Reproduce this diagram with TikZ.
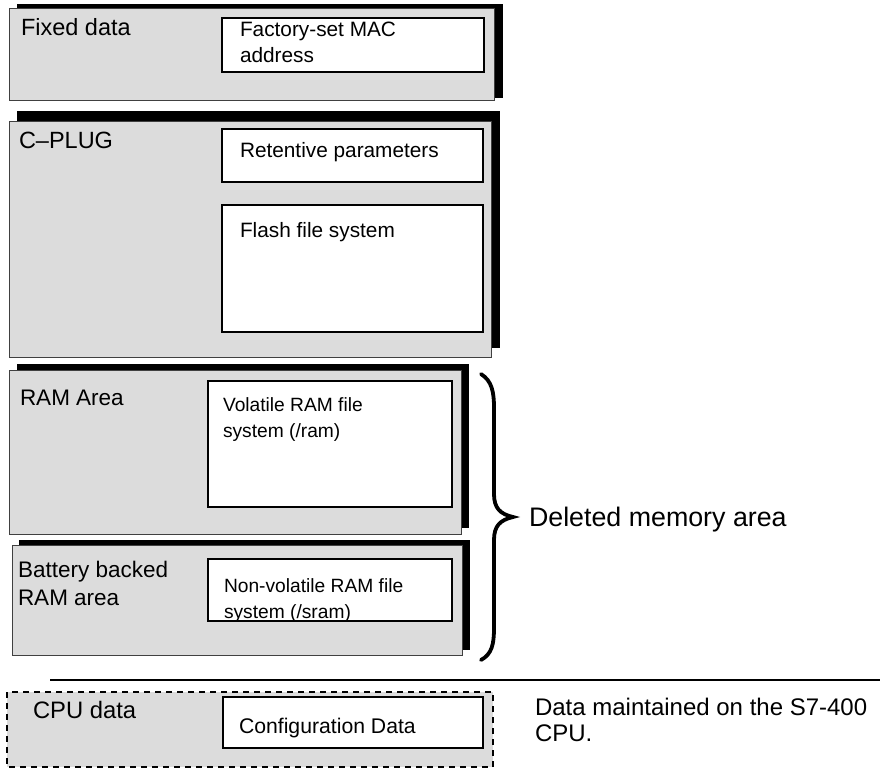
\documentclass[tikz,border=0pt]{standalone}
\usepackage{fontspec}
\setmainfont{Liberation Sans}
\definecolor{panel}{HTML}{DCDCDC}
\tikzset{
  shadowbox/.style={fill=black},
  panelbox/.style={fill=panel, draw=black!75, line width=0.9bp},
  innerbox/.style={fill=white, draw=black, line width=1.6bp},
  cpubox/.style={fill=panel, draw=black, line width=1.5bp, dash pattern=on 6bp off 5bp},
  lbl/.style={anchor=north west, inner sep=0pt, outer sep=0pt, align=left},
  blbl/.style={anchor=base west, inner sep=0pt, outer sep=0pt},
  bracestroke/.style={line width=3.8bp, line cap=round},
}
\newcommand\fsTop{\fontsize{23.5bp}{28bp}\selectfont}
\newcommand\fsOuter{\fontsize{22.5bp}{28bp}\selectfont}
\newcommand\fsInnerA{\fontsize{20.8bp}{26bp}\selectfont}
\newcommand\fsInnerB{\fontsize{19.2bp}{25.8bp}\selectfont}
\begin{document}
\begin{tikzpicture}[x=1bp,y=-1bp]
\useasboundingbox (0,0) rectangle (880,768);
% ---------- Fixed data
\fill[shadowbox] (17,4) rectangle (503,98);
\draw[panelbox] (9,8) rectangle (494,100);
\draw[innerbox] (222,18) rectangle (484,72);
\node[lbl, font=\fsTop] (fixed) at (21,18) {Fixed data};
\node[lbl, font=\fsInnerA] (mac) at (240,22) {Factory-set MAC\\address};
% ---------- C-PLUG
\fill[shadowbox] (17,111) rectangle (500,348);
\draw[panelbox] (9,121) rectangle (491,357);
\draw[innerbox] (222,129) rectangle (483,182);
\draw[innerbox] (222,205) rectangle (483,332);
\node[lbl, font=\fsTop] (cplug) at (19,132) {C–PLUG};
\node[lbl, font=\fsInnerA] (ret) at (240,142) {Retentive parameters};
\node[lbl, font=\fsInnerA] (flash) at (240,222) {Flash file system};
% ---------- RAM Area
\fill[shadowbox] (17,364) rectangle (469,528);
\draw[panelbox] (9,370) rectangle (461,534);
\draw[innerbox] (208,381) rectangle (452,507);
\node[lbl, font=\fsOuter] (ram) at (20,390) {RAM Area};
\node[lbl, font=\fsInnerB] (vram) at (223,398) {Volatile RAM file\\system (/ram)};
% ---------- Battery backed RAM area
\fill[shadowbox] (19,540) rectangle (470,650);
\draw[panelbox] (12,545) rectangle (462,655);
\draw[innerbox] (208,559) rectangle (452,621);
\node[lbl, font=\fsOuter] (bat) at (18,561) {Battery backed\\RAM area};
\node[lbl, font=\fsInnerB] (sram) at (224,579) {Non-volatile RAM file\\system (/sram)};
% ---------- Brace
\draw[bracestroke] (481,374) .. controls (492,381) and (494,392) .. (494,408)
  -- (494,494) .. controls (494,508) and (500,514) .. (513,517)
  .. controls (500,520) and (494,526) .. (494,540)
  -- (494,628) .. controls (494,644) and (492,654) .. (481,660);
\node[blbl, font=\fontsize{26.8bp}{30bp}\selectfont] (deleted) at (529,526) {Deleted memory area};
% ---------- Separator
\coordinate (sepL) at (50,680);
\coordinate (sepR) at (880,680);
\draw[line width=1.2bp] (sepL) -- (sepR);
% ---------- CPU data
\draw[cpubox] (7,692) rectangle (493,767);
\draw[innerbox] (223,697) rectangle (483,748);
\node[blbl, font=\fontsize{23.8bp}{28bp}\selectfont] (cpu) at (33,718) {CPU data};
\node[blbl, font=\fontsize{21.2bp}{26bp}\selectfont] (conf) at (239,733) {Configuration Data};
\node[lbl, font=\fontsize{24bp}{26bp}\selectfont] (maint) at (535,698) {Data maintained on the S7-400\\CPU.};
\end{tikzpicture}
\end{document}
